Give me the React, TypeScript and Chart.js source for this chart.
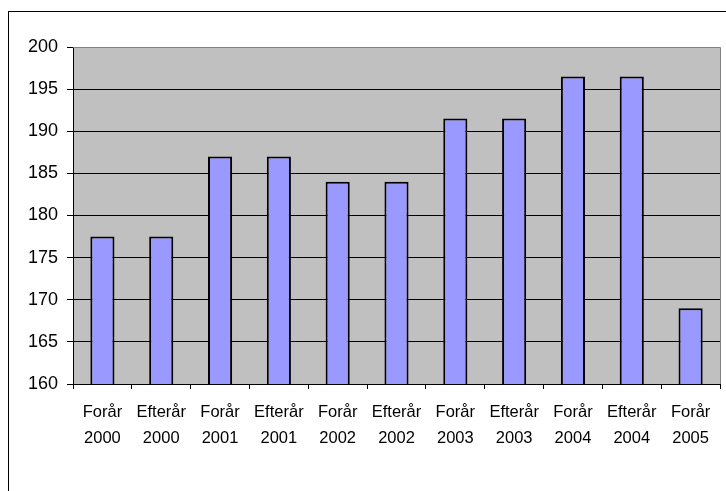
import React, { useEffect, useRef } from "react";
import { Chart, registerables } from "chart.js";

Chart.register(...registerables);

const seasons = ["Forår", "Efterår", "Forår", "Efterår", "Forår", "Efterår", "Forår", "Efterår", "Forår", "Efterår", "Forår"];
const years = ["2000", "2000", "2001", "2001", "2002", "2002", "2003", "2003", "2004", "2004", "2005"];
const values = [177.5, 177.5, 187, 187, 184, 184, 191.5, 191.5, 196.5, 196.5, 169];
const yMin = 160;
const yMax = 200;
const yStep = 5;

const FONT = "'Liberation Sans', Arial, sans-serif";

const framePlugin = {
  id: "frame",
  beforeDraw(chart: any) {
    const { ctx, chartArea } = chart;
    ctx.save();
    ctx.fillStyle = "#ffffff";
    ctx.fillRect(0, 0, chart.width, chart.height);
    ctx.strokeStyle = "#000000";
    ctx.lineWidth = 1;
    ctx.strokeRect(8.5, 11.5, 1000, 1000);
    ctx.fillStyle = "#C0C0C0";
    ctx.fillRect(chartArea.left, chartArea.top, chartArea.right - chartArea.left, chartArea.bottom - chartArea.top);
    ctx.restore();
  },
  afterDatasetsDraw(chart: any) {
    const { ctx, chartArea } = chart;
    ctx.save();
    ctx.strokeStyle = "#808080";
    ctx.lineWidth = 1;
    ctx.beginPath();
    ctx.moveTo(chartArea.left, chartArea.top + 0.5);
    ctx.lineTo(chartArea.right + 0.5, chartArea.top + 0.5);
    ctx.lineTo(chartArea.right + 0.5, chartArea.bottom);
    ctx.stroke();
    ctx.restore();
  },
};

export default function App() {
  const ref = useRef<HTMLCanvasElement>(null);
  useEffect(() => {
    document.body.style.margin = "0";
    const labels = seasons.map((s, i) => [s, years[i]]);
    const chart = new Chart(ref.current!, {
      type: "bar",
      data: {
        labels,
        datasets: [
          {
            data: values,
            backgroundColor: "#9999FF",
            borderColor: "#000000",
            borderWidth: 2,
            barPercentage: 0.41,
            categoryPercentage: 1,
          },
        ],
      },
      options: {
        animation: false,
        responsive: false,
        devicePixelRatio: 1,
        layout: { padding: { top: 47, right: 6, left: 0, bottom: 0 } },
        plugins: { legend: { display: false }, tooltip: { enabled: false } },
        scales: {
          x: {
            afterFit: (s: any) => { s.height = 107; },
            grid: {
              drawOnChartArea: false,
              drawTicks: true,
              tickLength: 5,
              color: "#000000",
              offset: true,
            },
            border: { color: "#000000", width: 1 },
            ticks: {
              color: "#000000",
              font: { family: FONT, size: 16.5, lineHeight: 1.55 },
              maxRotation: 0,
              autoSkip: false,
              padding: 11,
            },
          },
          y: {
            min: yMin,
            max: yMax,
            afterFit: (s: any) => { s.width = 73; },
            grid: {
              color: (c: any) => (c.tick && c.tick.value === yMax ? "#808080" : "#000000"),
              tickColor: "#000000",
              tickLength: 6,
              drawTicks: true,
            },
            border: { color: "#000000", width: 1 },
            ticks: {
              stepSize: yStep,
              color: "#000000",
              font: { family: FONT, size: 18 },
              padding: 9,
            },
          },
        },
      },
      plugins: [framePlugin],
    });
    return () => chart.destroy();
  }, []);
  return <canvas ref={ref} width={726} height={491} style={{ display: "block" }} />;
}
